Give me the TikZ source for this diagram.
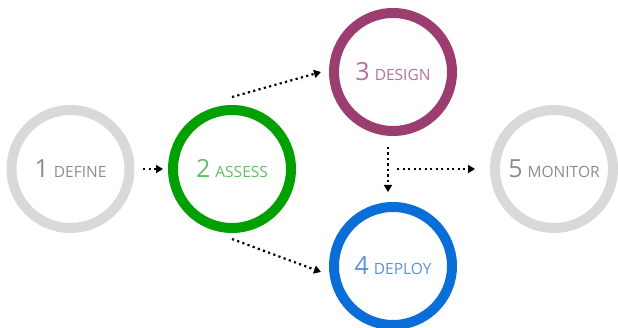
\documentclass[tikz,border=0pt]{standalone}
\usepackage{fontspec}
\setmainfont{Open Sans}
\usetikzlibrary{arrows.meta}
\definecolor{ringgray}{HTML}{D9D9D9}
\definecolor{textgray}{HTML}{8C8C8C}
\definecolor{ringgreen}{HTML}{00A000}
\definecolor{textgreen}{HTML}{66BB66}
\definecolor{ringpurple}{HTML}{9B3D6E}
\definecolor{textpurple}{HTML}{B5709A}
\definecolor{ringblue}{HTML}{0A6ED8}
\definecolor{textblue}{HTML}{5B8FE0}
\newcommand{\steplabel}[2]{{\fontsize{25}{25}\selectfont #1}\hspace{5pt}{\fontsize{15.5}{15.5}\selectfont #2}}
\tikzset{
  ring/.style={circle, draw=#1, line width=10pt, minimum size=118pt, inner sep=0pt},
  flow/.style={line width=2.2pt, dash pattern=on 2.2pt off 3.3pt, -{Triangle[length=7pt,width=8pt]}}
}
\begin{document}
\begin{tikzpicture}[x=1pt,y=-1pt]
\useasboundingbox (0,0) rectangle (618,328);
\node [ring=ringgray, text=textgray] (define) at (70.5,169) {\steplabel{1}{DEFINE}};
\node [ring=ringgreen, text=textgreen] (assess) at (232,169) {\steplabel{2}{ASSESS}};
\node [ring=ringpurple, text=textpurple] (design) at (393,72) {\steplabel{3}{DESIGN}};
\node [ring=ringblue, text=textblue] (deploy) at (393,266) {\steplabel{4}{DEPLOY}};
\node [ring=ringgray, text=textgray] (monitor) at (554,169) {\steplabel{5}{MONITOR}};
% connectors
\draw [flow] ([xshift=8.5pt]define.east) -- ([xshift=-5pt]assess.west);
\draw [flow] ([yshift=8pt]assess.north) -- ([xshift=-8pt]design.west);
\draw [flow] ([yshift=-6pt]assess.south) -- ([shift={(-8pt,-6pt)}]deploy.west);
\draw [flow] ([shift={(-5pt,-11pt)}]design.south) -- ([shift={(-5pt,10pt)}]deploy.north);
\coordinate (fork) at ([xshift=-5pt]design.south |- monitor.west);
\draw [flow, shorten <=9pt, shorten >=15pt] (fork) -- (monitor.west);
\end{tikzpicture}
\end{document}
